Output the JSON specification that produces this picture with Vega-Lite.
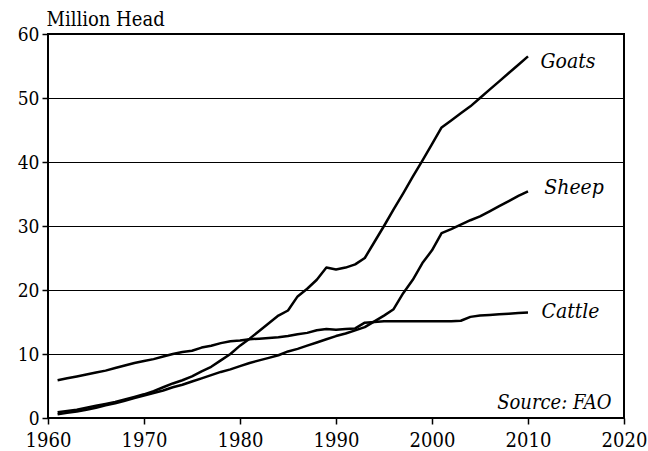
{
  "$schema": "https://vega.github.io/schema/vega-lite/v6.json",
  "width": 576,
  "height": 384,
  "autosize": {"type": "none"},
  "padding": {"left": 48, "top": 34, "right": 24, "bottom": 33},
  "background": "white",
  "config": {
    "font": "DejaVu Serif Condensed",
    "view": {"stroke": "black", "strokeWidth": 2}
  },
  "datasets": {
    "series": [
      {"year":1961,"animal":"Cattle","value":5.9},{"year":1962,"animal":"Cattle","value":6.2},{"year":1963,"animal":"Cattle","value":6.5},{"year":1964,"animal":"Cattle","value":6.8},{"year":1965,"animal":"Cattle","value":7.1},{"year":1966,"animal":"Cattle","value":7.4},{"year":1967,"animal":"Cattle","value":7.8},{"year":1968,"animal":"Cattle","value":8.2},{"year":1969,"animal":"Cattle","value":8.6},{"year":1970,"animal":"Cattle","value":8.9},{"year":1971,"animal":"Cattle","value":9.2},{"year":1972,"animal":"Cattle","value":9.6},{"year":1973,"animal":"Cattle","value":10.0},{"year":1974,"animal":"Cattle","value":10.3},{"year":1975,"animal":"Cattle","value":10.5},{"year":1976,"animal":"Cattle","value":11.0},{"year":1977,"animal":"Cattle","value":11.3},{"year":1978,"animal":"Cattle","value":11.7},{"year":1979,"animal":"Cattle","value":12.0},{"year":1980,"animal":"Cattle","value":12.1},{"year":1981,"animal":"Cattle","value":12.3},{"year":1982,"animal":"Cattle","value":12.4},{"year":1983,"animal":"Cattle","value":12.5},{"year":1984,"animal":"Cattle","value":12.6},{"year":1985,"animal":"Cattle","value":12.8},{"year":1986,"animal":"Cattle","value":13.1},{"year":1987,"animal":"Cattle","value":13.3},{"year":1988,"animal":"Cattle","value":13.7},{"year":1989,"animal":"Cattle","value":13.9},{"year":1990,"animal":"Cattle","value":13.8},{"year":1991,"animal":"Cattle","value":13.9},{"year":1992,"animal":"Cattle","value":14.0},{"year":1993,"animal":"Cattle","value":14.9},{"year":1994,"animal":"Cattle","value":15.0},{"year":1995,"animal":"Cattle","value":15.1},{"year":1996,"animal":"Cattle","value":15.1},{"year":1997,"animal":"Cattle","value":15.1},{"year":1998,"animal":"Cattle","value":15.1},{"year":1999,"animal":"Cattle","value":15.1},{"year":2000,"animal":"Cattle","value":15.1},{"year":2001,"animal":"Cattle","value":15.1},{"year":2002,"animal":"Cattle","value":15.1},{"year":2003,"animal":"Cattle","value":15.2},{"year":2004,"animal":"Cattle","value":15.8},{"year":2005,"animal":"Cattle","value":16.0},{"year":2006,"animal":"Cattle","value":16.1},{"year":2007,"animal":"Cattle","value":16.2},{"year":2008,"animal":"Cattle","value":16.3},{"year":2009,"animal":"Cattle","value":16.4},{"year":2010,"animal":"Cattle","value":16.5},
      {"year":1961,"animal":"Goats","value":0.9},{"year":1962,"animal":"Goats","value":1.1},{"year":1963,"animal":"Goats","value":1.3},{"year":1964,"animal":"Goats","value":1.6},{"year":1965,"animal":"Goats","value":1.9},{"year":1966,"animal":"Goats","value":2.2},{"year":1967,"animal":"Goats","value":2.5},{"year":1968,"animal":"Goats","value":2.9},{"year":1969,"animal":"Goats","value":3.3},{"year":1970,"animal":"Goats","value":3.7},{"year":1971,"animal":"Goats","value":4.2},{"year":1972,"animal":"Goats","value":4.8},{"year":1973,"animal":"Goats","value":5.4},{"year":1974,"animal":"Goats","value":5.9},{"year":1975,"animal":"Goats","value":6.5},{"year":1976,"animal":"Goats","value":7.3},{"year":1977,"animal":"Goats","value":8.0},{"year":1978,"animal":"Goats","value":9.0},{"year":1979,"animal":"Goats","value":10.0},{"year":1980,"animal":"Goats","value":11.3},{"year":1981,"animal":"Goats","value":12.4},{"year":1982,"animal":"Goats","value":13.6},{"year":1983,"animal":"Goats","value":14.8},{"year":1984,"animal":"Goats","value":16.0},{"year":1985,"animal":"Goats","value":16.8},{"year":1986,"animal":"Goats","value":19.0},{"year":1987,"animal":"Goats","value":20.2},{"year":1988,"animal":"Goats","value":21.6},{"year":1989,"animal":"Goats","value":23.5},{"year":1990,"animal":"Goats","value":23.2},{"year":1991,"animal":"Goats","value":23.5},{"year":1992,"animal":"Goats","value":24.0},{"year":1993,"animal":"Goats","value":25.0},{"year":1994,"animal":"Goats","value":27.5},{"year":1995,"animal":"Goats","value":30.0},{"year":1996,"animal":"Goats","value":32.6},{"year":1997,"animal":"Goats","value":35.1},{"year":1998,"animal":"Goats","value":37.7},{"year":1999,"animal":"Goats","value":40.2},{"year":2000,"animal":"Goats","value":42.8},{"year":2001,"animal":"Goats","value":45.4},{"year":2002,"animal":"Goats","value":46.5},{"year":2003,"animal":"Goats","value":47.6},{"year":2004,"animal":"Goats","value":48.7},{"year":2005,"animal":"Goats","value":50.0},{"year":2006,"animal":"Goats","value":51.3},{"year":2007,"animal":"Goats","value":52.6},{"year":2008,"animal":"Goats","value":53.9},{"year":2009,"animal":"Goats","value":55.2},{"year":2010,"animal":"Goats","value":56.5},
      {"year":1961,"animal":"Sheep","value":0.6},{"year":1962,"animal":"Sheep","value":0.8},{"year":1963,"animal":"Sheep","value":1.0},{"year":1964,"animal":"Sheep","value":1.3},{"year":1965,"animal":"Sheep","value":1.6},{"year":1966,"animal":"Sheep","value":2.0},{"year":1967,"animal":"Sheep","value":2.3},{"year":1968,"animal":"Sheep","value":2.7},{"year":1969,"animal":"Sheep","value":3.1},{"year":1970,"animal":"Sheep","value":3.5},{"year":1971,"animal":"Sheep","value":3.9},{"year":1972,"animal":"Sheep","value":4.3},{"year":1973,"animal":"Sheep","value":4.8},{"year":1974,"animal":"Sheep","value":5.2},{"year":1975,"animal":"Sheep","value":5.7},{"year":1976,"animal":"Sheep","value":6.2},{"year":1977,"animal":"Sheep","value":6.7},{"year":1978,"animal":"Sheep","value":7.2},{"year":1979,"animal":"Sheep","value":7.6},{"year":1980,"animal":"Sheep","value":8.1},{"year":1981,"animal":"Sheep","value":8.6},{"year":1982,"animal":"Sheep","value":9.0},{"year":1983,"animal":"Sheep","value":9.4},{"year":1984,"animal":"Sheep","value":9.8},{"year":1985,"animal":"Sheep","value":10.4},{"year":1986,"animal":"Sheep","value":10.8},{"year":1987,"animal":"Sheep","value":11.3},{"year":1988,"animal":"Sheep","value":11.8},{"year":1989,"animal":"Sheep","value":12.3},{"year":1990,"animal":"Sheep","value":12.8},{"year":1991,"animal":"Sheep","value":13.2},{"year":1992,"animal":"Sheep","value":13.7},{"year":1993,"animal":"Sheep","value":14.2},{"year":1994,"animal":"Sheep","value":15.1},{"year":1995,"animal":"Sheep","value":16.0},{"year":1996,"animal":"Sheep","value":17.0},{"year":1997,"animal":"Sheep","value":19.5},{"year":1998,"animal":"Sheep","value":21.6},{"year":1999,"animal":"Sheep","value":24.2},{"year":2000,"animal":"Sheep","value":26.2},{"year":2001,"animal":"Sheep","value":28.9},{"year":2002,"animal":"Sheep","value":29.5},{"year":2003,"animal":"Sheep","value":30.2},{"year":2004,"animal":"Sheep","value":30.9},{"year":2005,"animal":"Sheep","value":31.5},{"year":2006,"animal":"Sheep","value":32.3},{"year":2007,"animal":"Sheep","value":33.1},{"year":2008,"animal":"Sheep","value":33.9},{"year":2009,"animal":"Sheep","value":34.7},{"year":2010,"animal":"Sheep","value":35.4}
    ],
    "labels": [
      {"label": "Goats", "year": 2011.3, "value": 55.6},
      {"label": "Sheep", "year": 2011.7, "value": 35.9},
      {"label": "Cattle", "year": 2011.4, "value": 16.6}
    ],
    "note": [
      {"label": "Source: FAO", "year": 2018.7, "value": 2.4}
    ]
  },
  "layer": [
    {
      "data": {"name": "series"},
      "mark": {"type": "line", "color": "black", "strokeWidth": 2.5, "strokeJoin": "round"},
      "encoding": {
        "x": {
          "field": "year", "type": "quantitative",
          "scale": {"domain": [1960, 2020], "nice": false, "zero": false},
          "axis": {
            "values": [1960, 1970, 1980, 1990, 2000, 2010, 2020],
            "format": "d", "title": null, "grid": false, "domain": false,
            "tickColor": "black", "tickSize": 6, "tickWidth": 1.5,
            "labelFont": "DejaVu Serif Condensed", "labelFontSize": 20, "labelColor": "black",
            "labelPadding": 6, "labelFlush": false
          }
        },
        "y": {
          "field": "value", "type": "quantitative",
          "scale": {"domain": [0, 60], "nice": false},
          "axis": {
            "values": [0, 10, 20, 30, 40, 50, 60],
            "title": "Million Head", "titleAngle": 0, "titleAlign": "left", "titleBaseline": "alphabetic",
            "titleX": -2, "titleY": -9, "titleFont": "DejaVu Serif Condensed", "titleFontSize": 20,
            "titleFontWeight": "normal", "titleColor": "black",
            "grid": true, "gridColor": "black", "gridWidth": 1, "domain": false,
            "tickColor": "black", "tickSize": 6, "tickWidth": 1.5,
            "labelFont": "DejaVu Serif Condensed", "labelFontSize": 19, "labelColor": "black",
            "labelPadding": 3, "labelFlush": false
          }
        },
        "detail": {"field": "animal"}
      }
    },
    {
      "data": {"name": "labels"},
      "mark": {"type": "text", "align": "left", "baseline": "middle", "font": "DejaVu Serif Condensed", "fontStyle": "italic", "fontSize": 21, "color": "black"},
      "encoding": {
        "x": {"field": "year", "type": "quantitative"},
        "y": {"field": "value", "type": "quantitative"},
        "text": {"field": "label"}
      }
    },
    {
      "data": {"name": "note"},
      "mark": {"type": "text", "align": "right", "baseline": "middle", "font": "DejaVu Serif Condensed", "fontStyle": "italic", "fontSize": 20, "color": "black"},
      "encoding": {
        "x": {"field": "year", "type": "quantitative"},
        "y": {"field": "value", "type": "quantitative"},
        "text": {"field": "label"}
      }
    }
  ]
}
